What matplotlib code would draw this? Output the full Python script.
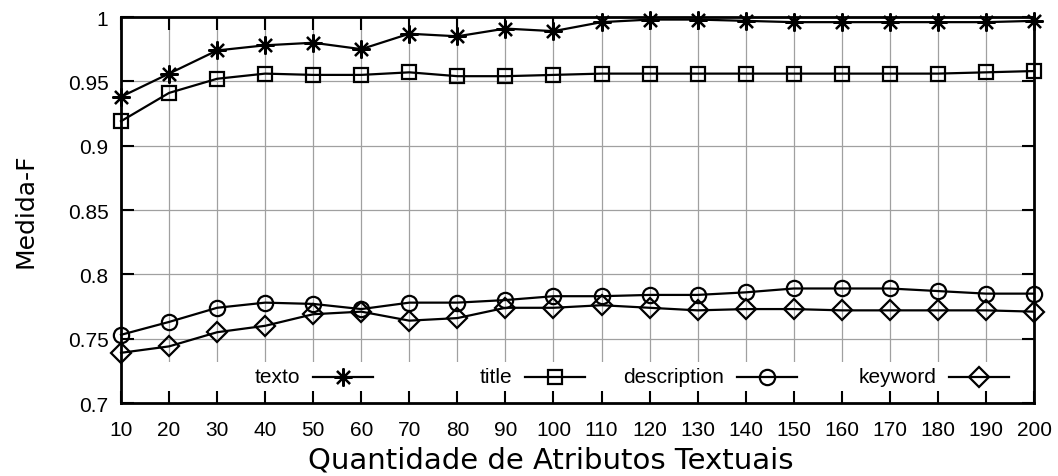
import matplotlib

matplotlib.use("Agg")

import matplotlib.pyplot as plt
from matplotlib.patches import Rectangle
from matplotlib.ticker import FuncFormatter

# --- data ---
atributos = [10, 20, 30, 40, 50, 60, 70, 80, 90, 100,
             110, 120, 130, 140, 150, 160, 170, 180, 190, 200]
texto = [0.938, 0.956, 0.974, 0.978, 0.980, 0.975, 0.987, 0.985, 0.991, 0.989,
         0.996, 0.998, 0.998, 0.997, 0.996, 0.996, 0.996, 0.996, 0.996, 0.997]
title = [0.919, 0.941, 0.952, 0.956, 0.955, 0.955, 0.957, 0.954, 0.954, 0.955,
         0.956, 0.956, 0.956, 0.956, 0.956, 0.956, 0.956, 0.956, 0.957, 0.958]
description = [0.753, 0.763, 0.774, 0.778, 0.777, 0.773, 0.778, 0.778, 0.780, 0.783,
               0.783, 0.784, 0.784, 0.786, 0.789, 0.789, 0.789, 0.787, 0.785, 0.785]
keyword = [0.739, 0.744, 0.755, 0.760, 0.769, 0.771, 0.764, 0.766, 0.774, 0.774,
           0.776, 0.774, 0.772, 0.773, 0.773, 0.772, 0.772, 0.772, 0.772, 0.771]

series = [
    ("texto", texto, (8, 2, 0), 13),
    ("title", title, "s", 10),
    ("description", description, "o", 11),
    ("keyword", keyword, "D", 10),
]

y_ticks = [0.7, 0.75, 0.8, 0.85, 0.9, 0.95, 1.0]

tick_font = "Liberation Sans"
label_font = "DejaVu Sans"

fig = plt.figure(figsize=(10.58, 4.77), dpi=100)
ax = fig.add_axes([121 / 1058, 1 - 404 / 477, 913 / 1058, 386 / 477])

ax.set_xlim(10, 200)
ax.set_ylim(0.7, 1.0)
ax.set_xticks(atributos)
ax.set_yticks(y_ticks)
ax.yaxis.set_major_formatter(FuncFormatter(lambda v, _: f"{v:g}"))

# key area at the bottom is opaque, so grid lines stop above it
key_h = 0.106
key_top = 0.7 + key_h * 0.3
grid_kw = dict(color="#a0a0a0", lw=0.9, zorder=0.6)
ax.vlines(atributos[1:-1], key_top, 1.0, **grid_kw)
ax.hlines(y_ticks[1:-1], 10, 200, **grid_kw)

for name, vals, mk, ms in series:
    ax.plot(atributos, vals, color="black", lw=1.6, marker=mk, ms=ms,
            mfc="none", mec="black", mew=1.6, clip_on=False, zorder=3)

ax.add_patch(Rectangle((0, 0), 1, key_h, transform=ax.transAxes,
                       facecolor="white", edgecolor="none", zorder=1))

# gnuplot style key: four evenly spaced columns, label then sample
key_y = 26 / 386
for i, (name, vals, mk, ms) in enumerate(series):
    x_txt = (179 + 212 * i) / 913
    x0 = x_txt + 13 / 913
    x1 = x0 + 60 / 913
    ax.text(x_txt, key_y, name, transform=ax.transAxes, ha="right", va="center",
            fontsize=15, family=tick_font, zorder=4)
    ax.plot([x0, x1], [key_y, key_y], transform=ax.transAxes, color="black",
            lw=1.6, zorder=4)
    ax.plot([(x0 + x1) / 2], [key_y], transform=ax.transAxes, marker=mk, ms=ms,
            mfc="none", mec="black", mew=1.6, zorder=4)

for sp in ax.spines.values():
    sp.set_linewidth(2)
    sp.set_zorder(5)

ax.tick_params(direction="in", length=9, width=1.5, top=True, right=True,
               labelsize=15, zorder=5)
ax.tick_params(axis="x", pad=12)
ax.tick_params(axis="y", pad=9)
for lab in ax.get_xticklabels() + ax.get_yticklabels():
    lab.set_family(tick_font)

ax.set_xlabel("Quantidade de Atributos Textuais", fontsize=21, family=label_font)
ax.xaxis.set_label_coords(430 / 913, -0.111, transform=ax.transAxes)
ax.xaxis.label.set_va("top")
ax.set_ylabel("Medida-F", fontsize=18, family=label_font, labelpad=22)

fig.savefig("out.png", dpi=100)
plt.close(fig)
